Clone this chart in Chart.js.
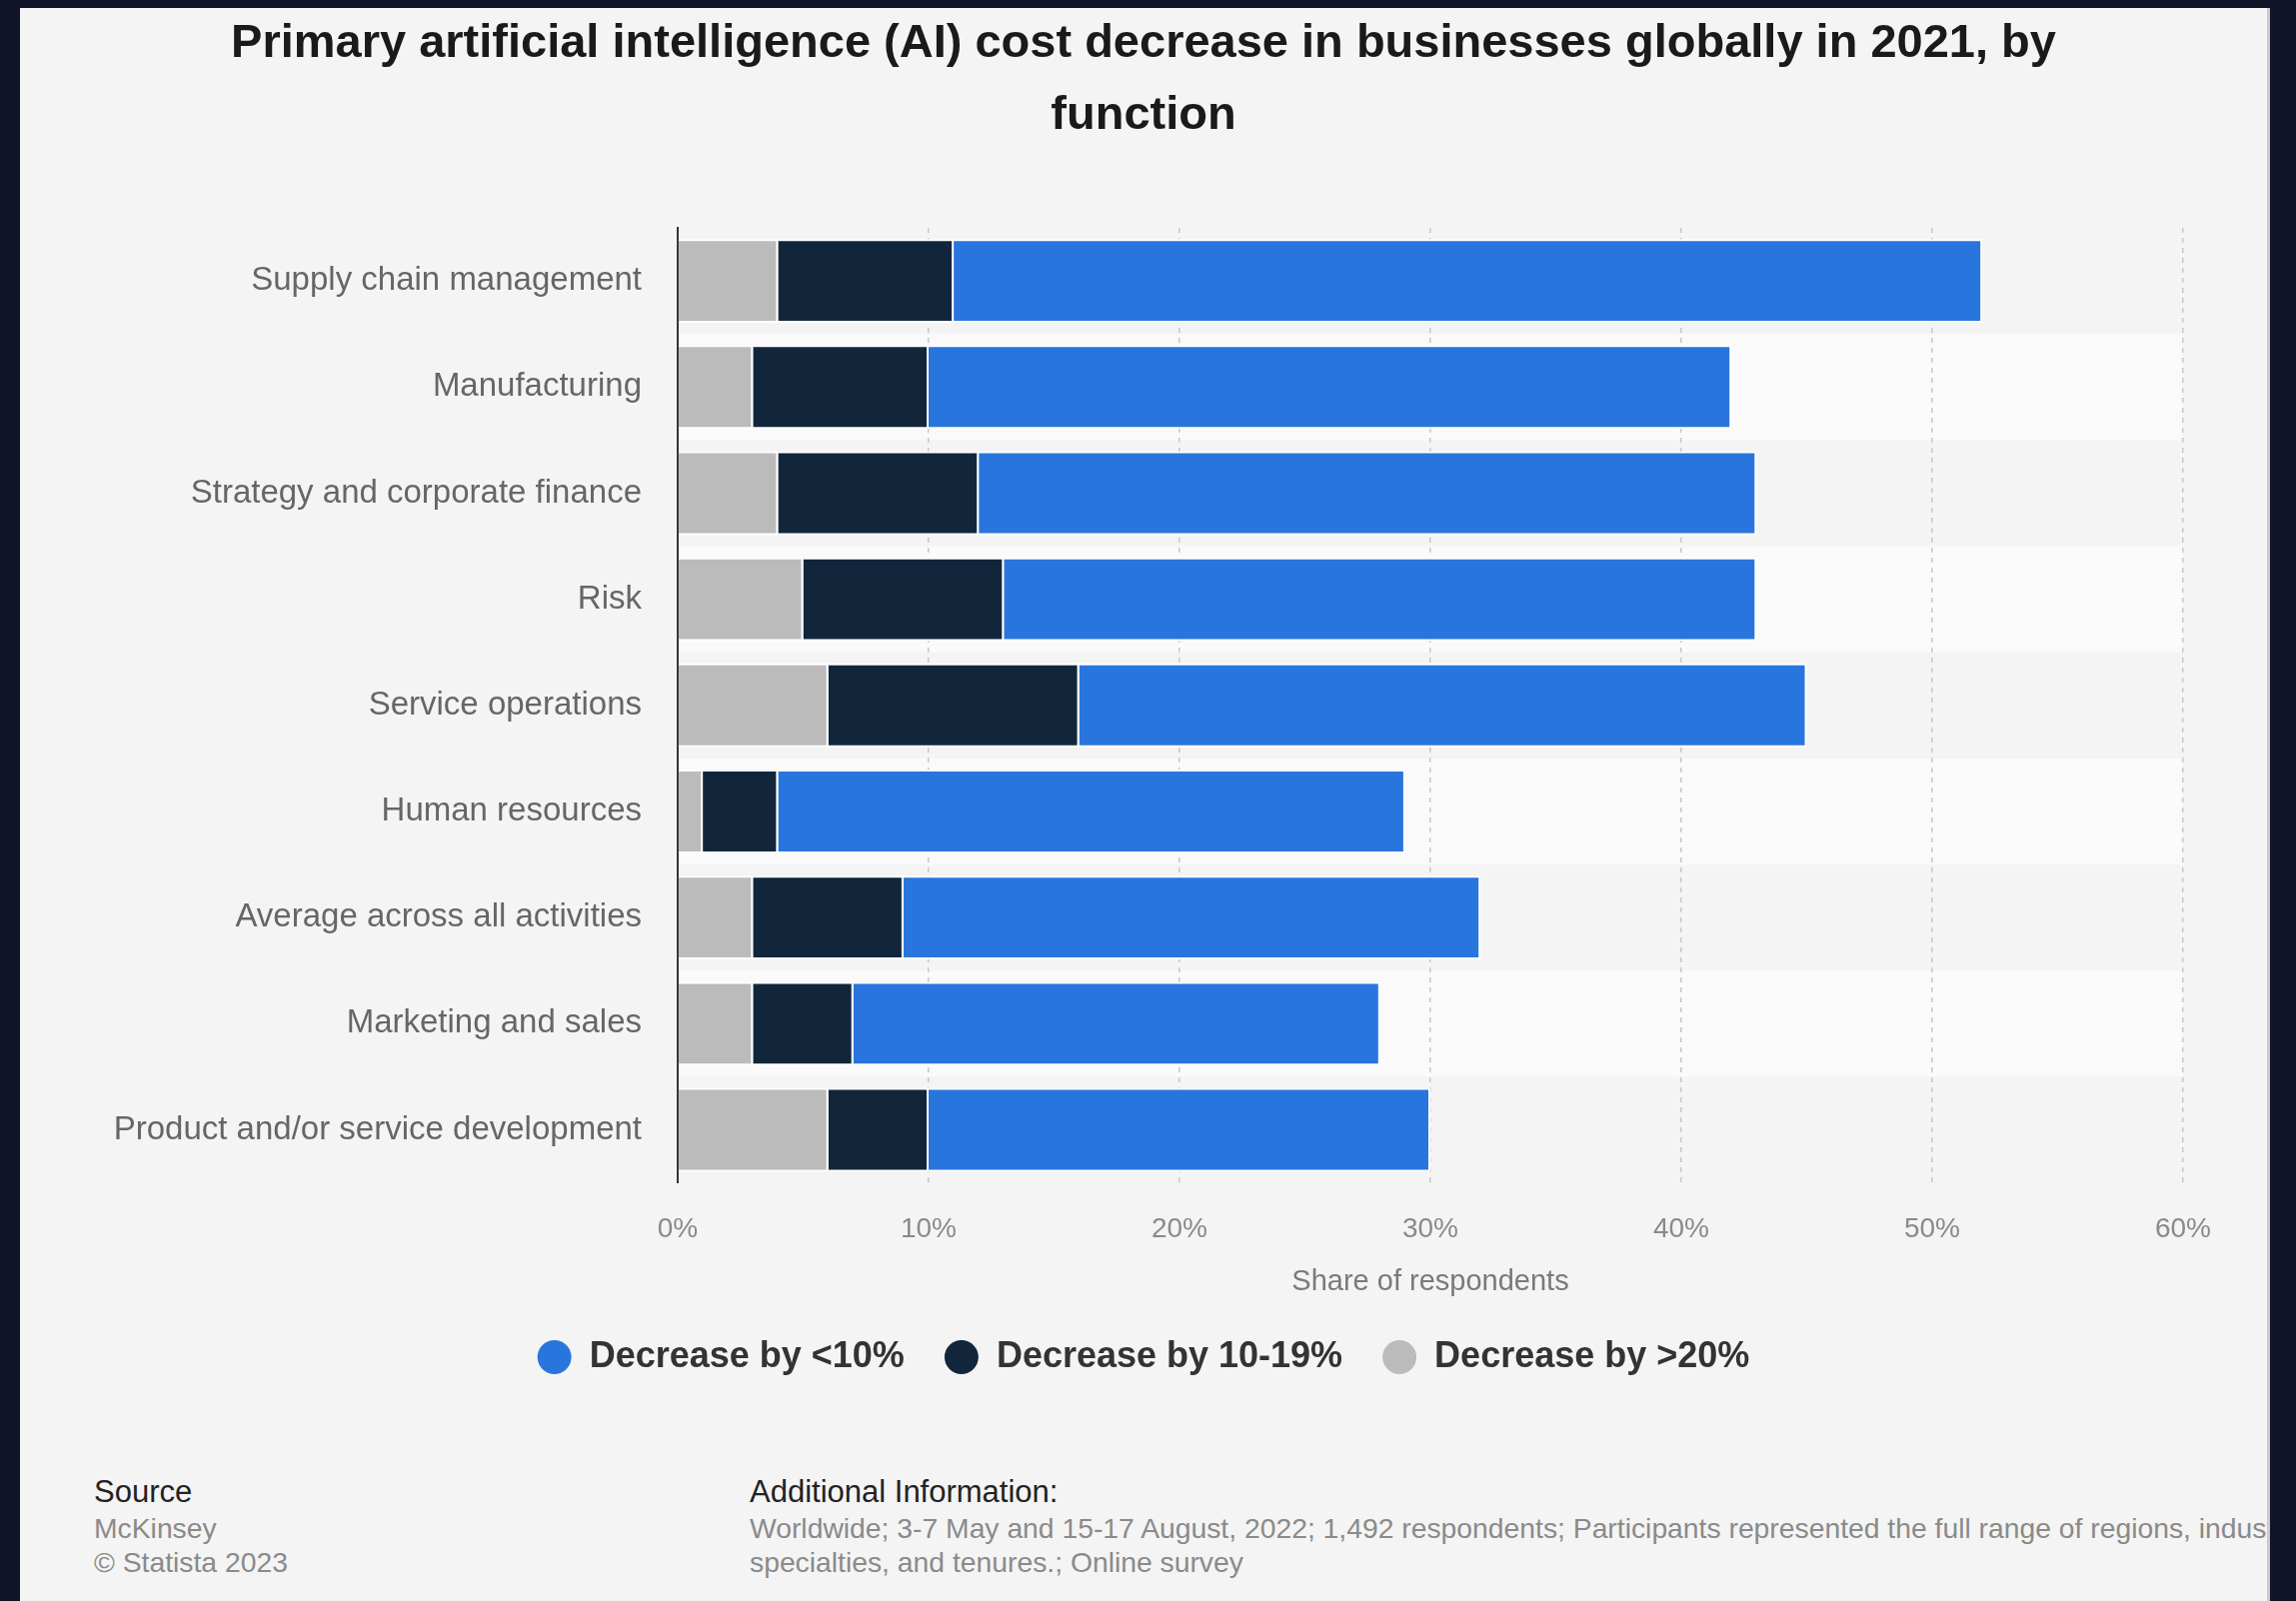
<!DOCTYPE html>
<html>
<head>
<meta charset="utf-8">
<script src="https://cdn.jsdelivr.net/npm/chart.js@4.4.0/dist/chart.umd.min.js"></script>
<style>
  html, body { margin: 0; padding: 0; background: #0f1429; }
  body { width: 2297px; height: 1602px; position: relative; overflow: hidden; font-family: "Liberation Sans", Arial, sans-serif; }
  #panel { position: absolute; left: 20px; top: 8px; width: 2248px; height: 1594px; background: #f4f4f4; border-right: 3px solid #cbcbcb; overflow: hidden; }
  #wrap { position: absolute; left: 0; top: 0; width: 2248px; height: 1378px; }
  .foot { position: absolute; white-space: nowrap; }
  .head { font-size: 31px; color: #222; line-height: 34px; }
  .sub { font-size: 28.3px; color: #8a8a8a; line-height: 34px; }
</style>
</head>
<body>
<div id="panel">
  <div id="wrap"><canvas id="chart"></canvas></div>
  <div class="foot head" style="left:74px; top:1468px;">Source</div>
  <div class="foot sub" style="left:74px; top:1504px;">McKinsey<br>© Statista 2023</div>
  <div class="foot head" style="left:730px; top:1468px;">Additional Information:</div>
  <div class="foot sub" style="left:730px; top:1504px;">Worldwide; 3-7 May and 15-17 August, 2022; 1,492 respondents; Participants represented the full range of regions, industries, company sizes, functional<br>specialties, and tenures.; Online survey</div>
</div>
<script>
const categories = [
    'Supply chain management',
    'Manufacturing',
    'Strategy and corporate finance',
    'Risk',
    'Service operations',
    'Human resources',
    'Average across all activities',
    'Marketing and sales',
    'Product and/or service development'
];
const seriesNames = ['Decrease by >20%', 'Decrease by 10-19%', 'Decrease by <10%'];
const above20 = [4, 3, 4, 5, 6, 1, 3, 3, 6];
const from10to19 = [7, 7, 8, 8, 10, 3, 6, 4, 4];
const below10 = [41, 32, 31, 30, 29, 25, 23, 21, 20];
const xTicks = [0, 10, 20, 30, 40, 50, 60];

const fontFamily = '"Liberation Sans", Arial, sans-serif';

// alternating row bands behind the bars
const rowBands = {
    id: 'rowBands',
    beforeDraw(chart) {
        const { ctx, chartArea, scales } = chart;
        const step = (chartArea.bottom - chartArea.top) / categories.length;
        ctx.save();
        ctx.fillStyle = '#fafafa';
        categories.forEach((c, i) => {
            if (i % 2 === 1) {
                const yc = scales.y.getPixelForValue(i);
                ctx.fillRect(chartArea.left, yc - step / 2, chartArea.right - chartArea.left, step);
            }
        });
        ctx.restore();
    }
};

const legendDefaults = Chart.defaults.plugins.legend.labels.generateLabels;

new Chart(document.getElementById('chart'), {
    type: 'bar',
    data: {
        labels: categories,
        datasets: [
            { label: seriesNames[0], data: above20, backgroundColor: '#bbbbbb' },
            { label: seriesNames[1], data: from10to19, backgroundColor: '#12263b' },
            { label: seriesNames[2], data: below10, backgroundColor: '#2876dd' }
        ].map(d => Object.assign(d, {
            borderColor: '#ffffff',
            borderWidth: 2,
            barPercentage: 0.79,
            categoryPercentage: 1
        }))
    },
    options: {
        indexAxis: 'y',
        responsive: true,
        maintainAspectRatio: false,
        animation: false,
        // symmetric padding keeps title and legend centred on the panel
        layout: { padding: { left: 84, right: 84, top: 0, bottom: 0 } },
        plugins: {
            title: {
                display: true,
                text: ['Primary artificial intelligence (AI) cost decrease in businesses globally in 2021, by', 'function'],
                color: '#1a1a1a',
                font: { family: fontFamily, size: 47, weight: 'bold', lineHeight: 1.532 },
                padding: { top: 0, bottom: 76 }
            },
            legend: {
                position: 'bottom',
                reverse: true,
                labels: {
                    usePointStyle: true,
                    pointStyle: 'circle',
                    boxHeight: 24,
                    boxWidth: 34,
                    padding: 40,
                    color: '#333333',
                    font: { family: fontFamily, size: 36, weight: 'bold' },
                    generateLabels: chart => legendDefaults(chart).map(l => Object.assign(l, { lineWidth: 0, strokeStyle: 'rgba(0,0,0,0)' }))
                }
            },
            tooltip: { enabled: false }
        },
        scales: {
            x: {
                stacked: true,
                min: xTicks[0],
                max: xTicks[xTicks.length - 1],
                afterBuildTicks: s => { s.ticks = xTicks.map(v => ({ value: v })); },
                grid: { color: '#c8c8c8', lineWidth: 1.5, drawTicks: false },
                border: { display: false, dash: [5, 5] },
                ticks: {
                    color: '#8a8a8a',
                    padding: 30,
                    font: { family: fontFamily, size: 28 },
                    callback: v => v + '%'
                },
                title: {
                    display: true,
                    text: 'Share of respondents',
                    color: '#7a7a7a',
                    font: { family: fontFamily, size: 29 },
                    padding: { top: -12, bottom: 0 }
                }
            },
            y: {
                stacked: true,
                afterFit: s => { s.width = 574; },
                grid: { display: false, drawTicks: false },
                border: { display: true, color: '#333333', width: 2 },
                ticks: {
                    color: '#666666',
                    padding: 36,
                    font: { family: fontFamily, size: 33 }
                }
            }
        }
    },
    plugins: [rowBands]
});
</script>
</body>
</html>
